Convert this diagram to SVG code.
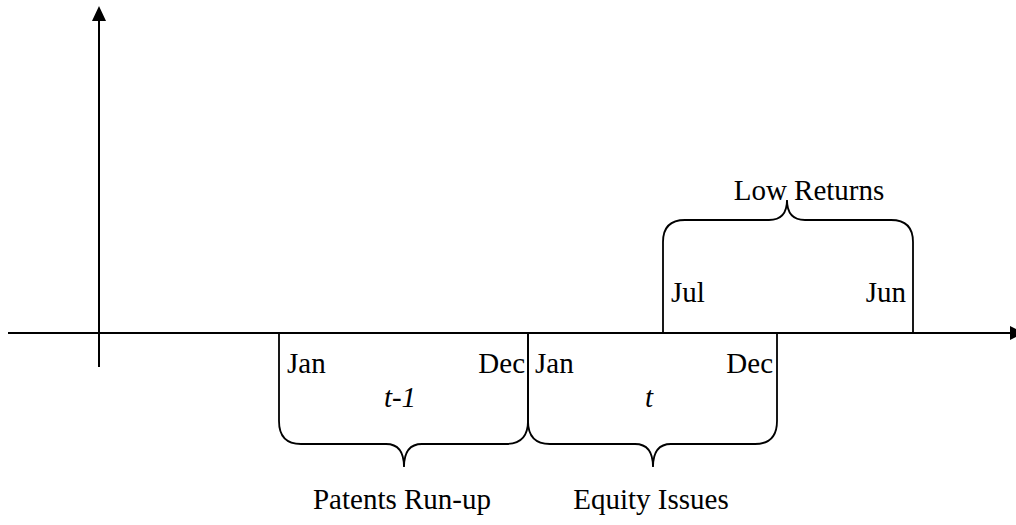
<svg xmlns="http://www.w3.org/2000/svg" width="1016" height="525" viewBox="0 0 1016 525">
<style>
.ln{stroke:#000;stroke-width:2;fill:none;stroke-linecap:butt}
.br{stroke:#000;stroke-width:1.8;fill:none}
.t{font-family:"Liberation Serif","Times New Roman",serif;font-size:29px;fill:#000}
.i{font-style:italic}
</style>
<rect width="1016" height="525" fill="#fff"/>
<g id="axes">
<line class="ln" x1="8" y1="333" x2="1011" y2="333"/>
<polygon points="1010,326 1024,333 1010,340" fill="#000"/>
<line class="ln" x1="99" y1="367" x2="99" y2="20"/>
<polygon points="99,6 92,21 106,21" fill="#000"/>
</g>
<g id="connectors">
<path id="brace-t-1" class="br" d="M279,333 V421 Q279,444 301,444 H386 Q404,444 404,467 Q404,444 422,444 H506 Q528,444 528,421 V333"/>
<path id="brace-t" class="br" d="M528,333 V421 Q528,444 550,444 H635 Q653,444 653,467 Q653,444 671,444 H755 Q777,444 777,421 V333"/>
<path id="brace-low" class="br" d="M663,333 V242 Q663,220 685,220 H769 Q787,220 787,200 Q787,220 805,220 H891 Q913,220 913,242 V333"/>
</g>
<g id="labels">
<text class="t" x="287" y="373">Jan</text>
<text class="t" x="525" y="373" text-anchor="end">Dec</text>
<text class="t i" x="400" y="407" text-anchor="middle">t-1</text>
<text class="t" x="535" y="373">Jan</text>
<text class="t" x="773" y="373" text-anchor="end">Dec</text>
<text class="t i" x="649" y="407" text-anchor="middle">t</text>
<text class="t" x="671" y="302">Jul</text>
<text class="t" x="906" y="302" text-anchor="end">Jun</text>
<text class="t" x="809" y="200" text-anchor="middle">Low Returns</text>
<text class="t" x="402" y="509" text-anchor="middle">Patents Run-up</text>
<text class="t" x="651" y="509" text-anchor="middle">Equity Issues</text>
</g>
</svg>
